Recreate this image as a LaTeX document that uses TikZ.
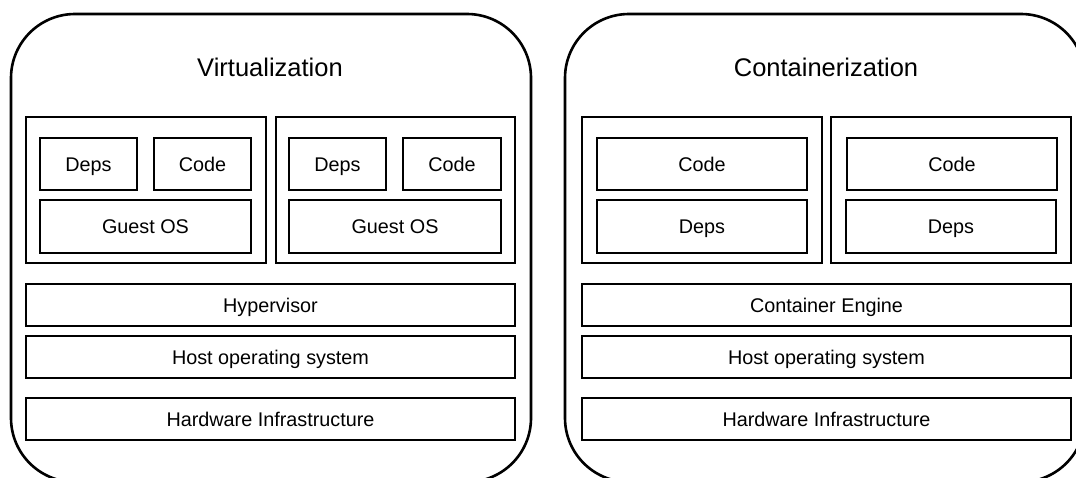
\documentclass[tikz,border=0pt]{standalone}
\usepackage{fontspec}
\setmainfont{Liberation Sans}
\usepackage{tikz}
\usetikzlibrary{positioning}

\begin{document}
\begin{tikzpicture}[x=1pt,y=-1pt,
  frame/.style={draw,line width=2.6pt,rounded corners=64pt,minimum width=520pt,minimum height=468pt,inner sep=0pt},
  heading/.style={font=\fontsize{25.5}{30}\selectfont,inner sep=0pt},
  holder/.style={draw,line width=1.8pt,minimum width=240pt,minimum height=146pt,inner sep=0pt},
  part/.style={draw,line width=1.8pt,minimum height=52pt,inner sep=0pt,text height=16pt,text depth=2pt,font=\fontsize{19.8}{23}\selectfont},
  layer/.style={draw,line width=1.8pt,minimum width=489pt,minimum height=42pt,inner sep=0pt,text height=16pt,text depth=2pt,font=\fontsize{19.8}{23}\selectfont}]
\clip (0,0) rectangle (1076,477);
% outer frames
\node[frame] (virt) at (271,248) {};
\node[frame] (cont) at (825,248) {};
\node[heading] (virtT) at (270,67) {Virtualization};
\node[heading] (contT) at (826,67) {Containerization};
% virtual machines
\node[holder] (vmA) at (146,190) {};
\node[holder,minimum width=239pt] (vmB) at (395.5,190) {};
\node[part,minimum width=97pt] (depsA) at (88.5,164) {Deps};
\node[part,minimum width=97pt] (codeA) at (202.5,164) {Code};
\node[part,minimum width=211pt,minimum height=53pt] (guestA) at (145.5,226.5) {Guest OS};
\node[part,minimum width=97pt] (depsB) at (337.5,164) {Deps};
\node[part,minimum width=98pt] (codeB) at (452,164) {Code};
\node[part,minimum width=212pt,minimum height=53pt] (guestB) at (395,226.5) {Guest OS};
\node[layer] (hyper) at (270.5,305) {Hypervisor};
\node[layer] (hostA) at (270.5,357) {Host operating system};
\node[layer] (hwA) at (270.5,419) {Hardware Infrastructure};
% containers
\node[holder] (ctA) at (702,190) {};
\node[holder] (ctB) at (951,190) {};
\node[part,minimum width=210pt] (codeC) at (702,164) {Code};
\node[part,minimum width=210pt,minimum height=53pt] (depsC) at (702,226.5) {Deps};
\node[part,minimum width=210pt] (codeD) at (952,164) {Code};
\node[part,minimum width=210pt,minimum height=53pt] (depsD) at (951,226.5) {Deps};
\node[layer] (engine) at (826.5,305) {Container Engine};
\node[layer] (hostB) at (826.5,357) {Host operating system};
\node[layer] (hwB) at (826.5,419) {Hardware Infrastructure};
\end{tikzpicture}
\end{document}
